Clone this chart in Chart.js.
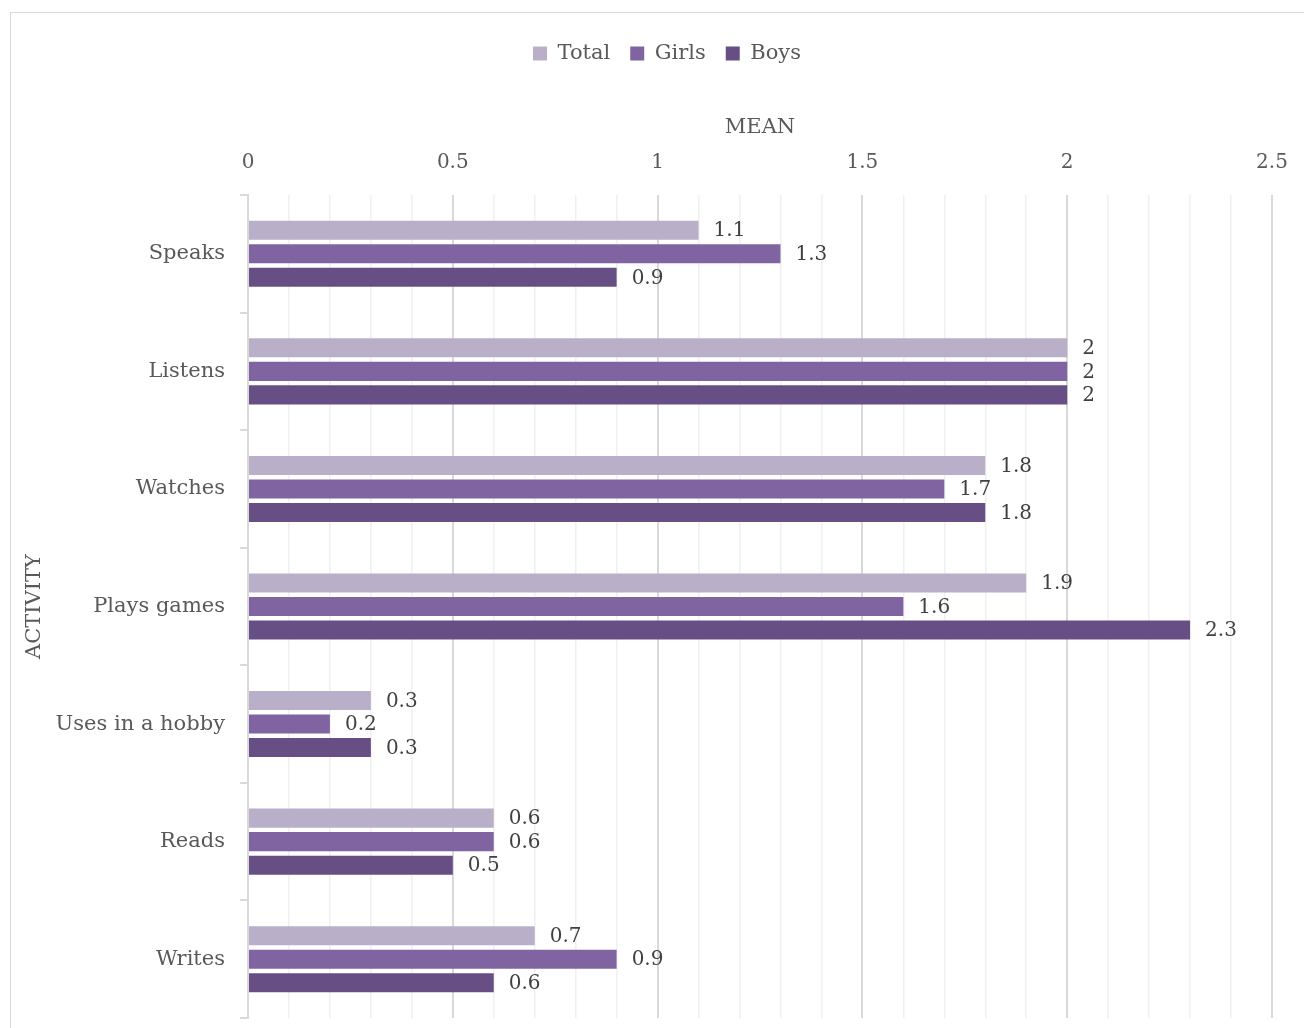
<!DOCTYPE html>
<html>
<head>
<meta charset="utf-8">
<script src="https://cdn.jsdelivr.net/npm/chart.js@4"></script>
<style>
  html, body { margin: 0; background: #fff; overflow: hidden; }
  #frame { position: absolute; left: 10px; top: 12px; width: 1300px; height: 1020px; border: 1px solid #d9d9d9; }
  #barchart { position: absolute; left: 0; top: 0; }
</style>
</head>
<body>
<div id="frame"></div>
<canvas id="barchart" width="1304" height="1028"></canvas>
<script>
var categories = ["Speaks", "Listens", "Watches", "Plays games", "Uses in a hobby", "Reads", "Writes"];
var total = [1.1, 2, 1.8, 1.9, 0.3, 0.6, 0.7];
var girls = [1.3, 2, 1.7, 1.6, 0.2, 0.6, 0.9];
var boys = [0.9, 2, 1.8, 2.3, 0.3, 0.5, 0.6];
var majorTicks = [0, 0.5, 1, 1.5, 2, 2.5];

var FONT = "'DejaVu Serif', serif";
var TEXT = "#595959";

function isMajor(v) {
  return majorTicks.some(function (m) { return Math.abs(m - v) < 1e-6; });
}

// value labels at the end of each bar
var barLabels = {
  id: "barLabels",
  afterLayout: function (chart) {
    // legend sits a bit right of centre in the original
    chart.legend.left += 20;
    chart.legend.right += 20;
  },
  afterDatasetsDraw: function (chart) {
    var ctx = chart.ctx;
    ctx.save();
    ctx.font = "20px " + FONT;
    ctx.fillStyle = "#404040";
    ctx.textAlign = "left";
    ctx.textBaseline = "middle";
    chart.data.datasets.forEach(function (ds, i) {
      chart.getDatasetMeta(i).data.forEach(function (bar, j) {
        ctx.fillText(String(ds.data[j]), bar.x + 15, bar.y + 1);
      });
    });
    ctx.restore();
  },
};

var ctx = document.getElementById("barchart").getContext("2d");
var barchart = new Chart(ctx, {
  type: "bar",
  data: {
    labels: categories,
    datasets: [
      { label: "Total", data: total, backgroundColor: "#b9afc9" },
      { label: "Girls", data: girls, backgroundColor: "#8064a2" },
      { label: "Boys", data: boys, backgroundColor: "#674f85" },
    ],
  },
  plugins: [barLabels],
  options: {
    indexAxis: "y",
    responsive: false,
    animation: false,
    categoryPercentage: 0.6,
    barPercentage: 0.81,
    layout: { padding: { left: 22, right: 32, top: 23, bottom: 10 } },
    plugins: {
      tooltip: { enabled: false },
      legend: {
        display: true,
        position: "top",
        labels: {
          font: { family: FONT, size: 21 },
          color: TEXT,
          boxWidth: 14,
          boxHeight: 14,
          padding: 20,
        },
      },
    },
    scales: {
      x: {
        position: "top",
        min: 0,
        max: 2.5,
        afterFit: function (s) {
          s.height = 121;
          s.paddingLeft = 0;
          s.paddingRight = 0;
        },
        title: {
          display: true,
          text: "MEAN",
          color: TEXT,
          font: { family: FONT, size: 21 },
          padding: { top: 41, bottom: 0 },
        },
        border: { display: false },
        grid: {
          drawTicks: false,
          color: function (c) { return isMajor(c.tick.value) ? "#d9d9d9" : "#f0f0f0"; },
          lineWidth: function (c) { return isMajor(c.tick.value) ? 2 : 1.5; },
        },
        ticks: {
          stepSize: 0.1,
          autoSkip: false,
          maxRotation: 0,
          padding: 20,
          color: TEXT,
          font: { family: FONT, size: 20 },
          callback: function (v) { return isMajor(v) ? String(Math.round(v * 10) / 10) : ""; },
        },
      },
      y: {
        afterFit: function (s) {
          s.width = 226;
          s.paddingTop = 0;
          s.paddingBottom = 0;
        },
        title: {
          display: true,
          text: "ACTIVITY",
          color: TEXT,
          font: { family: FONT, size: 21 },
          padding: { top: 0, bottom: 0 },
        },
        border: { display: true, color: "#d9d9d9", width: 2 },
        grid: {
          offset: true,
          drawOnChartArea: false,
          drawTicks: true,
          tickLength: 8,
          color: "#d9d9d9",
          lineWidth: 2,
        },
        ticks: {
          padding: 15,
          color: TEXT,
          font: { family: FONT, size: 21 },
        },
      },
    },
  },
});
</script>
</body>
</html>
